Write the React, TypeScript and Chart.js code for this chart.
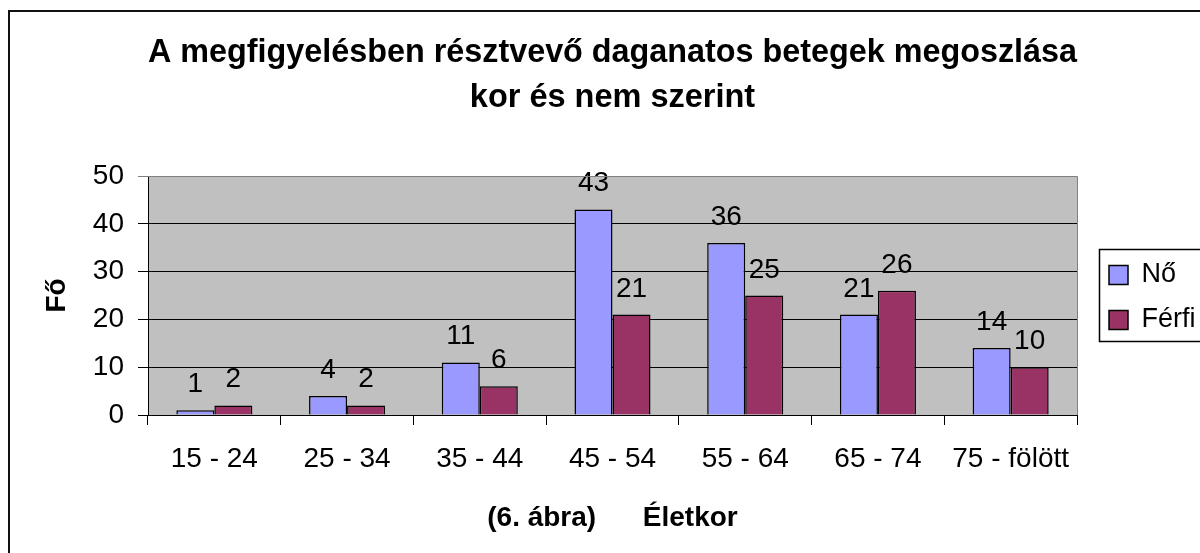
import React, { useEffect, useRef } from "react";
import { Chart, registerables } from "chart.js";

Chart.register(...registerables);

const categories = ["15 - 24", "25 - 34", "35 - 44", "45 - 54", "55 - 64", "65 - 74", "75 - fölött"];
const noValues = [1, 4, 11, 43, 36, 21, 14];
const ferfiValues = [2, 2, 6, 21, 25, 26, 10];
const seriesNames = ["Nő", "Férfi"];
const yTicks = [0, 10, 20, 30, 40, 50];
const titleLines = ["A megfigyelésben résztvevő daganatos betegek megoszlása", "kor és nem szerint"];
const xTitle = "(6. ábra)      Életkor";
const yTitle = "Fő";

const FONT = '"Liberation Sans", Arial, sans-serif';

const decorPlugin = {
  id: "decor",
  afterLayout(chart: any) {
    const lg = chart.legend;
    if (lg) {
      lg.left += 14;
      lg.right += 14;
      lg.top += 21;
      lg.bottom += 21;
    }
  },
  beforeDraw(chart: any) {
    const { ctx, chartArea: a } = chart;
    ctx.save();
    ctx.fillStyle = "#C0C0C0";
    ctx.fillRect(a.left, a.top, a.right - a.left, a.bottom - a.top);
    ctx.restore();
  },
  afterDatasetsDraw(chart: any) {
    const { ctx } = chart;
    ctx.save();
    ctx.font = `28px ${FONT}`;
    ctx.fillStyle = "#000";
    ctx.textAlign = "center";
    ctx.textBaseline = "alphabetic";
    chart.data.datasets.forEach((ds: any, i: number) => {
      const meta = chart.getDatasetMeta(i);
      meta.data.forEach((bar: any, j: number) => {
        const p = bar.getProps(["x", "y"], true);
        ctx.fillText(String(ds.data[j]), p.x, p.y - 18);
      });
    });
    ctx.restore();
  },
  afterDraw(chart: any) {
    const { ctx, chartArea: a } = chart;
    ctx.save();
    ctx.strokeStyle = "#808080";
    ctx.lineWidth = 1;
    ctx.beginPath();
    ctx.moveTo(a.left, a.top + 0.5);
    ctx.lineTo(a.right + 0.5, a.top + 0.5);
    ctx.lineTo(a.right + 0.5, a.bottom);
    ctx.stroke();
    ctx.strokeStyle = "#000";
    ctx.lineWidth = 1.5;
    ctx.strokeRect(1099.5, 249.5, 130, 92);
    ctx.strokeStyle = "#111";
    ctx.lineWidth = 2;
    ctx.beginPath();
    ctx.moveTo(9, 560);
    ctx.lineTo(9, 11);
    ctx.lineTo(1210, 11);
    ctx.stroke();
    ctx.restore();
  },
};

export default function App() {
  const ref = useRef<HTMLCanvasElement | null>(null);

  useEffect(() => {
    if (!ref.current) return;
    const chart = new Chart(ref.current, {
      type: "bar",
      data: {
        labels: categories,
        datasets: [
          {
            label: seriesNames[0],
            data: noValues,
            backgroundColor: "#9999FF",
            borderColor: "#000",
            borderWidth: 1.5,
            categoryPercentage: 0.573,
            barPercentage: 1,
          },
          {
            label: seriesNames[1],
            data: ferfiValues,
            backgroundColor: "#993366",
            borderColor: "#000",
            borderWidth: 1.5,
            categoryPercentage: 0.573,
            barPercentage: 1,
          },
        ],
      },
      options: {
        responsive: false,
        animation: false,
        devicePixelRatio: 1,
        layout: { padding: { left: 0, right: 9, top: 0, bottom: 0 } },
        plugins: {
          title: {
            display: true,
            text: titleLines,
            fullSize: false,
            color: "#000",
            font: { family: FONT, size: 32.5, weight: "bold", lineHeight: "45px" },
            padding: { top: 31, bottom: 55 },
          },
          legend: {
            position: "right",
            maxWidth: 114,
            labels: {
              boxWidth: 19,
              boxHeight: 19,
              padding: 18,
              color: "#000",
              font: { family: FONT, size: 27 },
            },
          },
          tooltip: { enabled: false },
        },
        scales: {
          x: {
            grid: {
              offset: true,
              drawOnChartArea: false,
              drawTicks: true,
              tickLength: 10,
              color: "#000",
              lineWidth: 1,
            },
            border: { color: "#000", width: 1 },
            ticks: {
              color: "#000",
              font: { family: FONT, size: 28 },
              padding: 17,
              maxRotation: 0,
              autoSkip: false,
            },
            title: {
              display: true,
              text: xTitle,
              color: "#000",
              font: { family: FONT, size: 28, weight: "bold" },
              padding: { top: 0, bottom: 18 },
            },
            afterFit: (s: any) => {
              s.height = 138;
            },
          },
          y: {
            min: 0,
            max: 50,
            afterBuildTicks: (s: any) => {
              s.ticks = yTicks.map((v) => ({ value: v }));
            },
            ticks: {
              color: "#000",
              font: { family: FONT, size: 28 },
              padding: 14,
            },
            grid: {
              color: (c: any) => (c.tick && c.tick.value === 50 ? "#808080" : "#000"),
              lineWidth: 1,
              tickLength: 10,
            },
            border: { color: "#000", width: 1 },
            title: {
              display: true,
              text: yTitle,
              color: "#000",
              font: { family: FONT, size: 28, weight: "bold" },
              padding: { top: 40, bottom: 0 },
            },
            afterFit: (s: any) => {
              s.width = 148;
            },
          },
        },
      },
      plugins: [decorPlugin],
    } as any);
    return () => chart.destroy();
  }, []);

  return (
    <canvas
      ref={ref}
      width={1200}
      height={553}
      style={{ position: "fixed", left: 0, top: 0, display: "block" }}
    />
  );
}
